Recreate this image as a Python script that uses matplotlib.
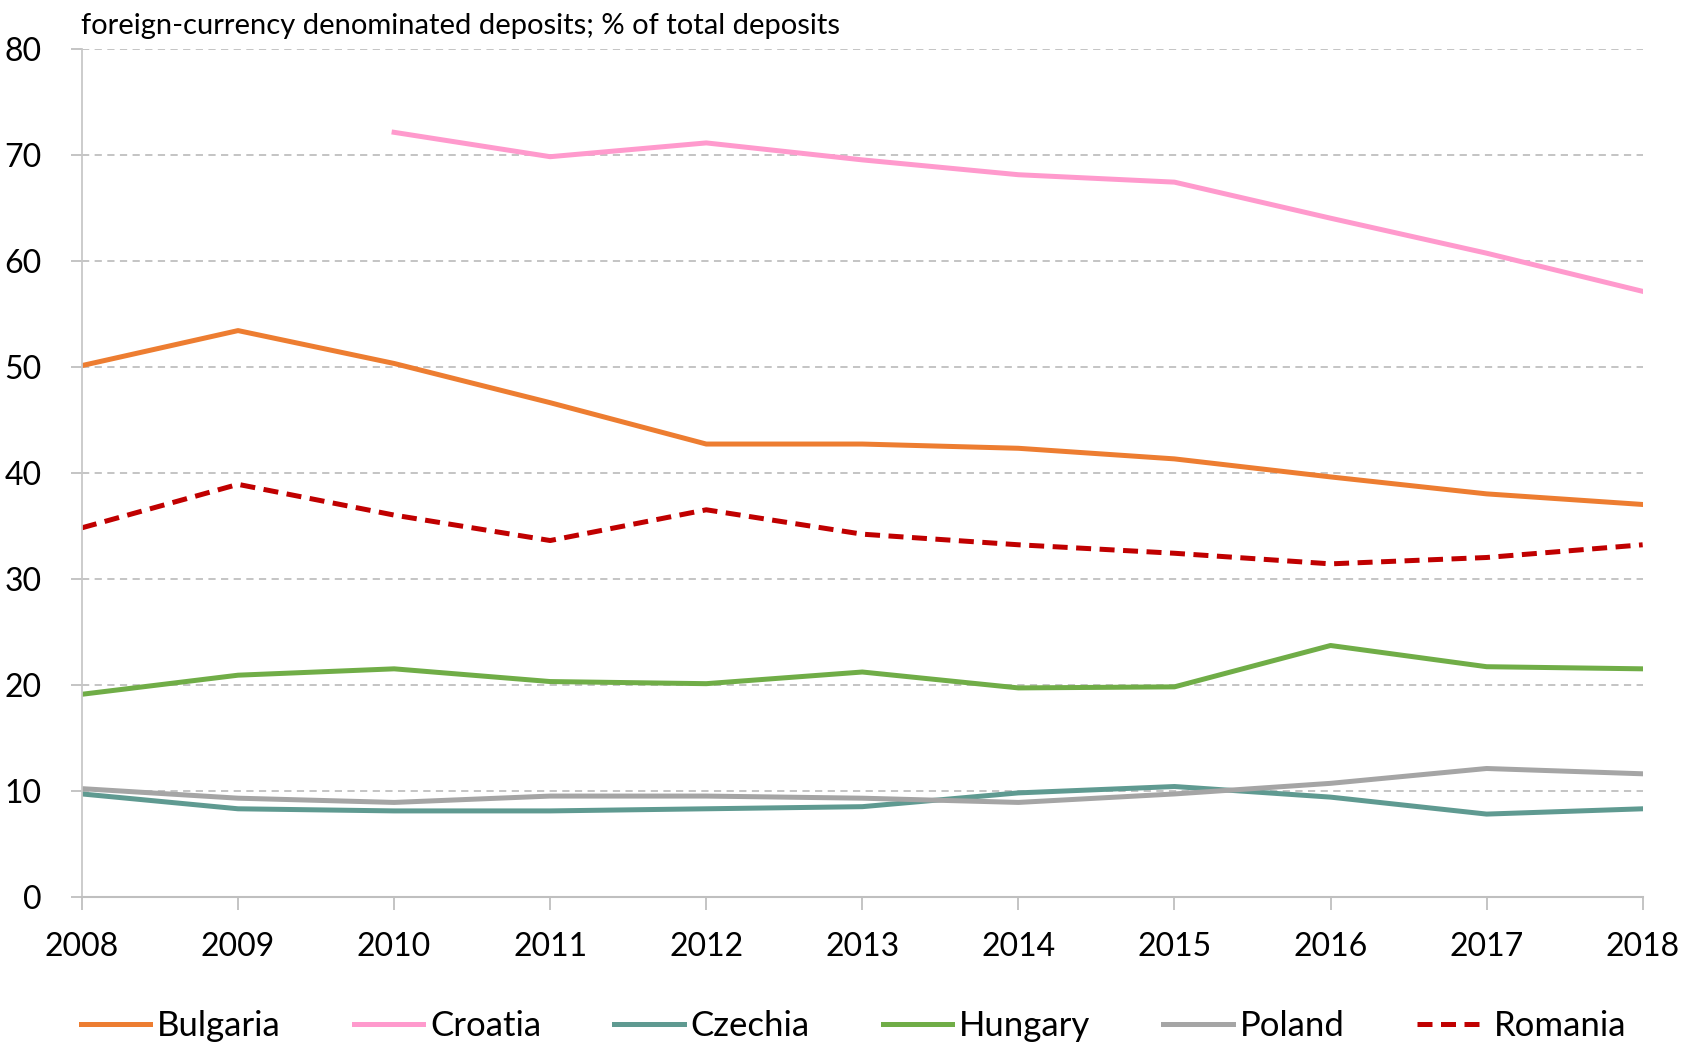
import matplotlib
matplotlib.use("Agg")
import matplotlib.pyplot as plt
from matplotlib import font_manager

# pick a narrow-ish font close to Calibri
available = {f.name for f in font_manager.fontManager.ttflist}
for fam in ["Liberation Sans Narrow", "Lato", "DejaVu Sans"]:
    if fam in available:
        FONT = fam
        break
plt.rcParams['font.family'] = [FONT, 'DejaVu Sans']

years = list(range(2008, 2019))
croatia_years = list(range(2010, 2019))

bulgaria = [50.1, 53.4, 50.3, 46.6, 42.7, 42.7, 42.3, 41.3, 39.6, 38.0, 37.0]
croatia = [72.1, 69.8, 71.1, 69.5, 68.1, 67.4, 64.0, 60.7, 57.1]
czechia = [9.7, 8.3, 8.1, 8.1, 8.3, 8.5, 9.8, 10.4, 9.4, 7.8, 8.3]
hungary = [19.1, 20.9, 21.5, 20.3, 20.1, 21.2, 19.7, 19.8, 23.7, 21.7, 21.5]
poland = [10.2, 9.3, 8.9, 9.5, 9.5, 9.3, 8.9, 9.7, 10.7, 12.1, 11.6]
romania = [34.8, 38.9, 36.0, 33.6, 36.5, 34.2, 33.2, 32.4, 31.4, 32.0, 33.2]

title = "foreign-currency denominated deposits; % of total deposits"

fig = plt.figure(figsize=(16.9, 10.44), dpi=100)
ax = fig.add_axes([0.0485, 0.141, 0.9235, 0.8125])

lw = 3.6
ax.plot(years, bulgaria, color='#ED7D31', lw=lw, label='Bulgaria')
ax.plot(croatia_years, croatia, color='#FF9ACD', lw=lw, label='Croatia')
ax.plot(years, czechia, color='#5F9A91', lw=lw, label='Czechia')
ax.plot(years, hungary, color='#70AD47', lw=lw, label='Hungary')
ax.plot(years, poland, color='#A5A5A5', lw=lw, label='Poland')
ax.plot(years, romania, color='#C00000', lw=lw, dashes=(3.0, 1.7), label='Romania')

ax.set_xlim(2008, 2018)
ax.set_ylim(0, 80)
ax.set_xticks(years)
ax.set_yticks(range(0, 81, 10))
ax.yaxis.grid(True, color='#BFBFBF', ls=(0, (4, 3)), lw=1.3)
ax.set_axisbelow(True)

for s in ['top', 'right']:
    ax.spines[s].set_visible(False)
ax.spines['left'].set_color('#C8C8C8')
ax.spines['bottom'].set_color('#BFBFBF')
ax.spines['left'].set_linewidth(1.3)
ax.spines['bottom'].set_linewidth(1.5)

ax.tick_params(axis='x', direction='out', length=9, width=1.3, color='#BFBFBF',
               pad=16, labelsize=23)
ax.tick_params(axis='y', direction='out', length=8, width=1.3, color='#BFBFBF',
               pad=21, labelsize=23)

fig.text(0.048, 0.975, title, fontsize=21, va='center', ha='left')

fig.legend(loc='center', bbox_to_anchor=(0.505, 0.017), ncol=6, frameon=False,
           fontsize=25, handlelength=2.0, handletextpad=0.2, columnspacing=2.1)

fig.savefig("out.png", dpi=100)
